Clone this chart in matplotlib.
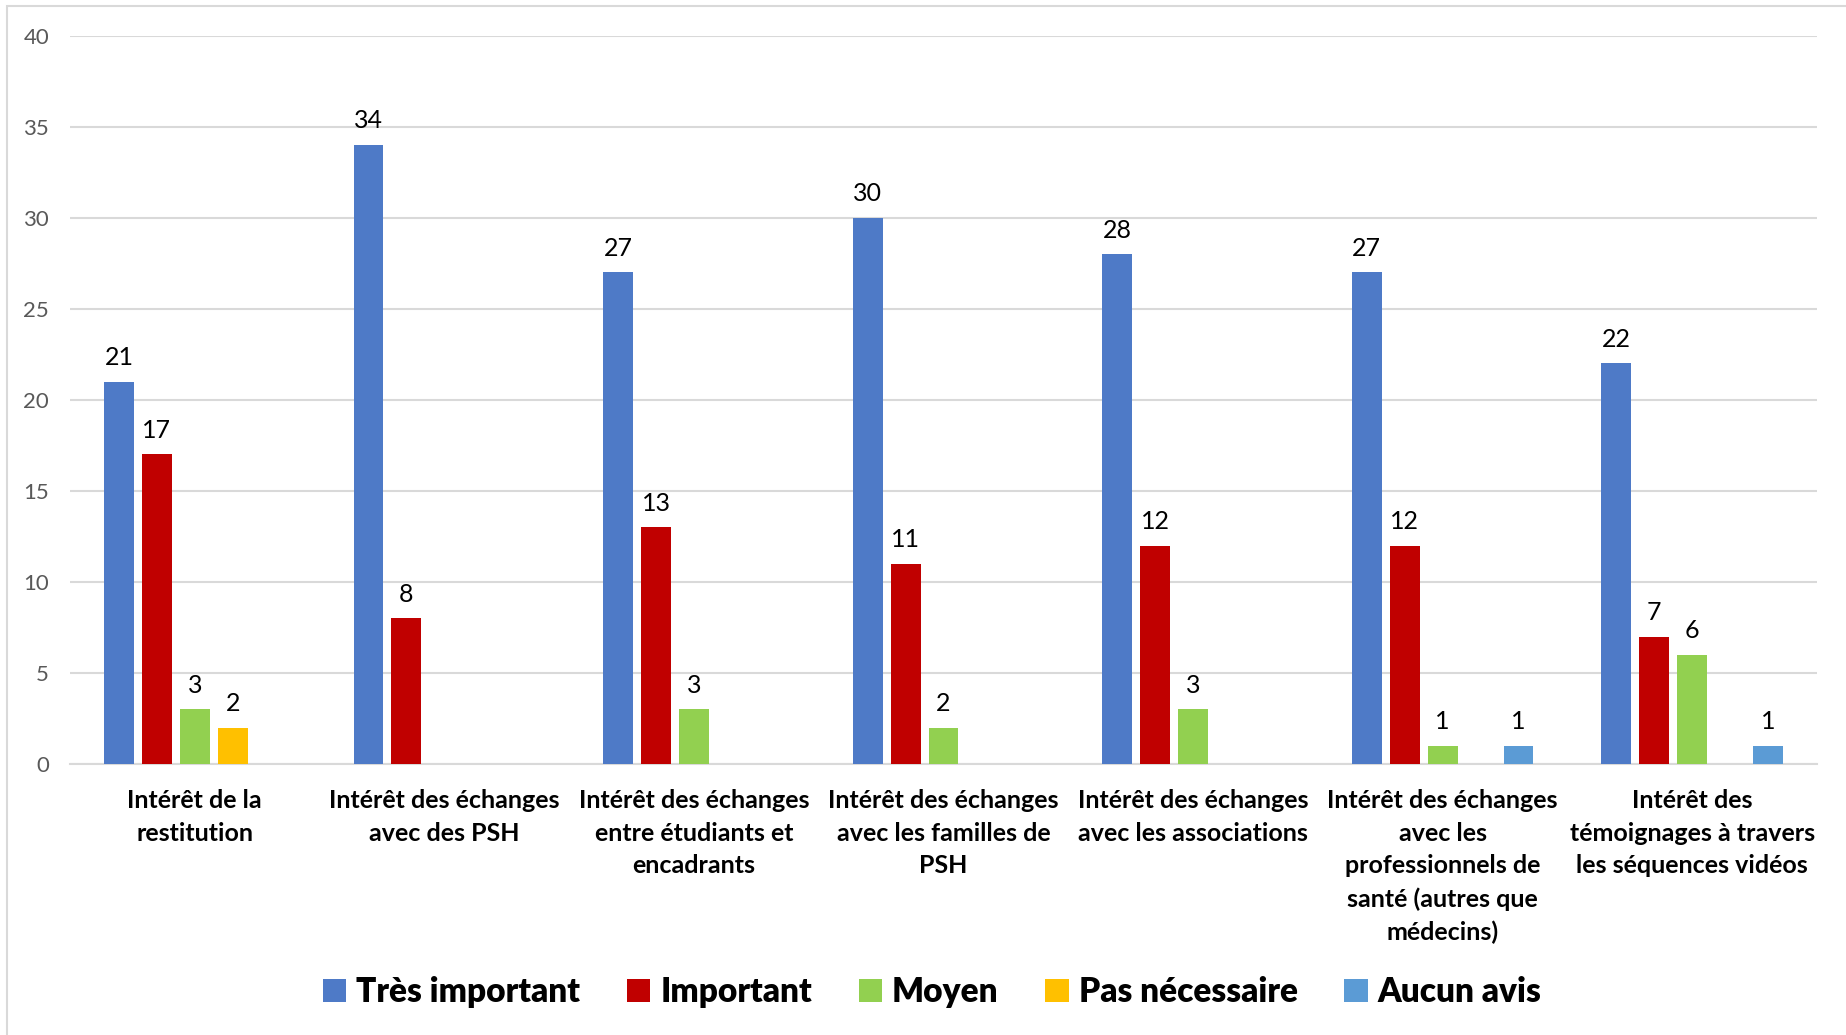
import numpy as np
import matplotlib
matplotlib.use("Agg")
import matplotlib.pyplot as plt
from matplotlib.patches import Rectangle

plt.rcParams['font.family'] = ['Lato', 'DejaVu Sans']

categories = [
    "Intérêt de la\nrestitution",
    "Intérêt des échanges\navec des PSH",
    "Intérêt des échanges\nentre étudiants et\nencadrants",
    "Intérêt des échanges\navec les familles de\nPSH",
    "Intérêt des échanges\navec les associations",
    "Intérêt des échanges\navec les\nprofessionnels de\nsanté (autres que\nmédecins)",
    "Intérêt des\ntémoignages à travers\nles séquences vidéos",
]
series_names = ["Très important", "Important", "Moyen", "Pas nécessaire", "Aucun avis"]
tres_important = [21, 34, 27, 30, 28, 27, 22]
important = [17, 8, 13, 11, 12, 12, 7]
moyen = [3, None, 3, 2, 3, 1, 6]
pas_necessaire = [2, None, None, None, None, None, None]
aucun_avis = [None, None, None, None, None, 1, 1]
series_values = [tres_important, important, moyen, pas_necessaire, aucun_avis]
colors = ["#4E7AC7", "#C00000", "#92D050", "#FFC000", "#5B9BD5"]
yticks = [0, 5, 10, 15, 20, 25, 30, 35, 40]

W, H = 1846, 1035
fig = plt.figure(figsize=(W / 100, H / 100), dpi=100)
fig.patches.append(Rectangle((7 / W, -0.1), 2, 1.1 - 6 / H, transform=fig.transFigure,
                             fill=False, edgecolor="#D9D9D9", linewidth=1.5))
ax = fig.add_axes([70 / W, 1 - 764 / H, (1817 - 70) / W, (764 - 35.7) / H])

x = np.arange(len(categories))
pitch = 0.152
width = 0.12
for i, (name, vals, c) in enumerate(zip(series_names, series_values, colors)):
    v = np.array([np.nan if a is None else a for a in vals], dtype=float)
    bars = ax.bar(x + (i - 2) * pitch, v, width, color=c, label=name, zorder=3)
    labels = ["" if np.isnan(a) else f"{int(a)}" for a in v]
    ax.bar_label(bars, labels=labels, padding=9, fontsize=18, color="black")

ax.set_xlim(-0.5, len(categories) - 0.5)
ax.set_ylim(0, 40)
ax.set_yticks(yticks)
ax.set_yticklabels([str(t) for t in yticks], fontsize=16, color="#595959")
ax.yaxis.grid(True, color="#D9D9D9", linewidth=1.5, zorder=0)
ax.set_xticks(x)
ax.set_xticklabels(categories, fontsize=18, fontweight="bold", linespacing=1.51)
ax.tick_params(axis="x", length=0, pad=18)
ax.tick_params(axis="y", length=0, pad=15)
for s in ["top", "right", "left"]:
    ax.spines[s].set_visible(False)
ax.spines["bottom"].set_color("#D9D9D9")
ax.spines["bottom"].set_linewidth(1.5)

fig.legend(loc="center", bbox_to_anchor=(0.505, 1 - 992 / H), ncol=5, frameon=False,
           prop={"size": 24, "weight": "heavy"}, handlelength=0.7, handleheight=0.7,
           handletextpad=0.3, columnspacing=1.4)

fig.savefig("out.png", dpi=100, facecolor="white")
